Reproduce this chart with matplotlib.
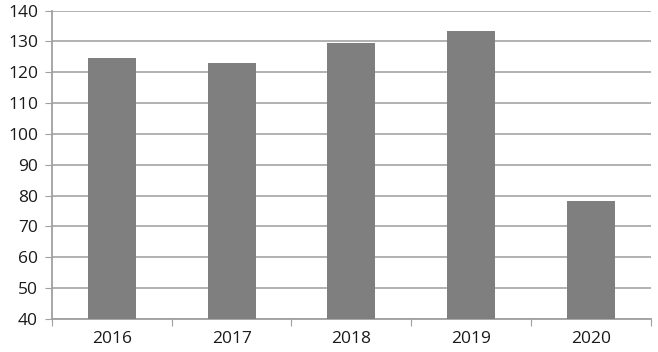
import matplotlib.pyplot as plt
import numpy as np

years = ['2016', '2017', '2018', '2019', '2020']
values = [124.5, 123.0, 129.5, 133.4, 78.2]

plt.rcParams['font.family'] = ['Open Sans', 'DejaVu Sans']

fig = plt.figure(figsize=(6.58, 3.52), dpi=100)
ax = fig.add_axes([0.079, 0.094, 0.910, 0.876])

x = np.arange(len(years))
ax.bar(x, values, width=0.4, color='#7f7f7f', zorder=3, bottom=0)

ax.set_ylim(40, 140)
ax.set_xlim(-0.5, len(years) - 0.5)
ax.set_yticks(np.arange(40, 141, 10))
ax.yaxis.grid(True, color='#ababab', linewidth=1.3, zorder=0)

# category boundaries as ticks, labels in the middle
ax.set_xticks(np.arange(-0.5, len(years), 1.0))
ax.set_xticklabels([])
ax.set_xticks(x, minor=True)
ax.set_xticklabels(years, minor=True)
ax.tick_params(axis='x', which='major', length=5, color='#a0a0a0', direction='out')
ax.tick_params(axis='x', which='minor', length=0, pad=9, labelsize=12.5, labelcolor='#1a1a1a')
ax.tick_params(axis='y', length=5, color='#a0a0a0', labelsize=12.5, pad=5, labelcolor='#1a1a1a')

for s in ['top', 'right']:
    ax.spines[s].set_visible(False)
for s in ['left', 'bottom']:
    ax.spines[s].set_color('#a0a0a0')
    ax.spines[s].set_linewidth(1.3)

fig.savefig('out.png', dpi=100)
